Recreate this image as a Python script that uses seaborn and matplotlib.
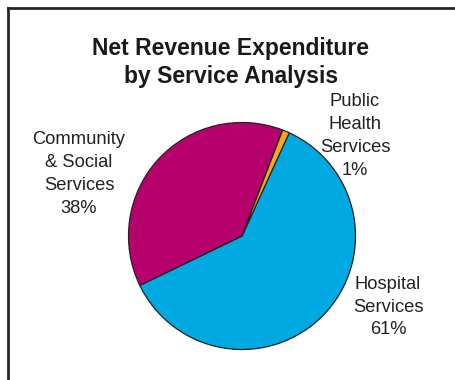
import matplotlib
matplotlib.use("Agg")
import matplotlib.pyplot as plt
from matplotlib.lines import Line2D
import seaborn as sns

# Net revenue expenditure shares by service
categories = ["Hospital\nServices", "Community\n& Social\nServices", "Public\nHealth\nServices"]
shares = [61, 38, 1]
colors = ["#00A9E2", "#B6006B", "#F2A91E"]

sns.set_theme(style="white")
plt.rcParams["font.family"] = ["Liberation Sans", "DejaVu Sans"]

W, H = 456, 380
fig = plt.figure(figsize=(W / 100, H / 100), dpi=100)
fig.patch.set_facecolor("white")

# pie axes: centre and radius in pixels
cx, cy, r = 242, 236, 113.5
lim = 1.05
half = r * lim
ax = fig.add_axes([(cx - half) / W, (H - cy - half) / H, 2 * half / W, 2 * half / H])
ax.pie(shares, colors=colors, startangle=65.4, counterclock=False,
       wedgeprops=dict(edgecolor="#222222", linewidth=0.9))
ax.set_xlim(-lim, lim)
ax.set_ylim(-lim, lim)
ax.set_aspect("equal")
ax.axis("off")

# category labels with percentages
label_pos = [(388, 307), (79, 174), (355, 136)]
for name, val, (px, py) in zip(categories, shares, label_pos):
    fig.text(px / W, 1 - py / H, f"{name}\n{val}%", ha="center", va="center",
             fontsize=13.2, color="#222222", linespacing=1.45)

fig.text(231 / W, 1 - 62.5 / H, "Net Revenue Expenditure\nby Service Analysis",
         ha="center", va="center", fontsize=16.5, fontweight="bold",
         color="#1a1a1a", linespacing=1.28)

# frame lines on the left and top
fig.add_artist(Line2D([8 / W, 8 / W], [0, 1 - 8 / H], transform=fig.transFigure,
                      color="#262626", linewidth=2.0, solid_capstyle="projecting"))
fig.add_artist(Line2D([8 / W, 1], [1 - 8 / H, 1 - 8 / H], transform=fig.transFigure,
                      color="#262626", linewidth=2.0, solid_capstyle="projecting"))

fig.savefig("out.png", dpi=100, facecolor="white")
